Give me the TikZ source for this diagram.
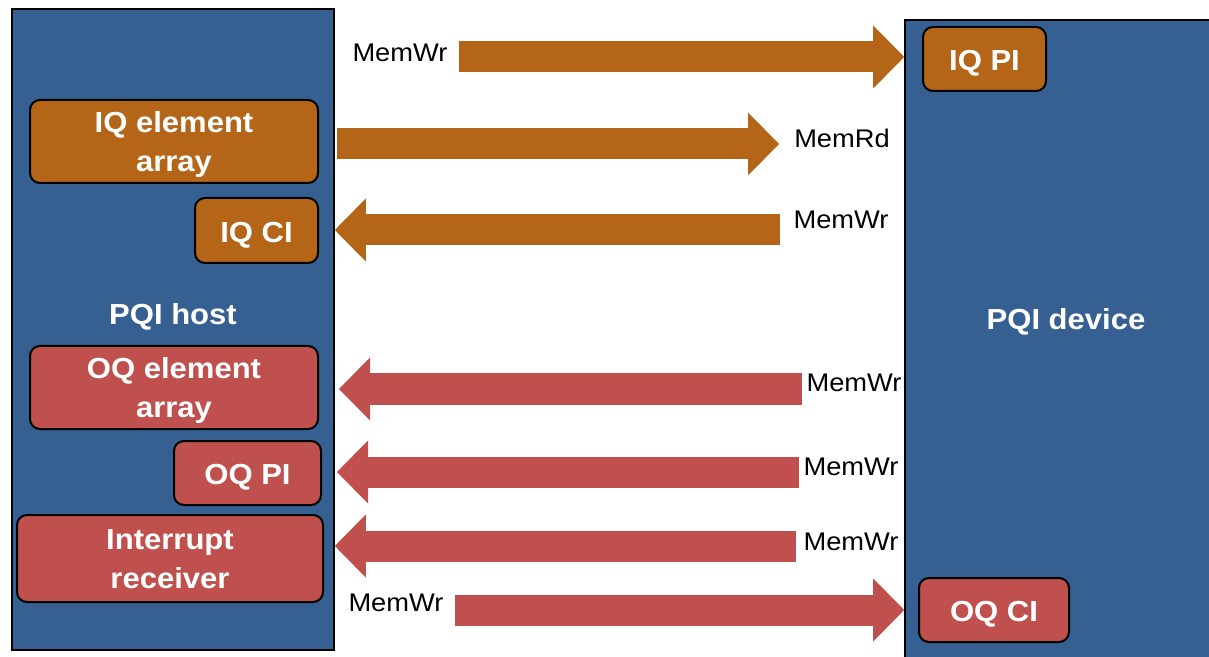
\documentclass[tikz,border=0pt]{standalone}
\usepackage{fontspec}
\setmainfont{Liberation Sans}[FakeStretch=1.07]
\usetikzlibrary{arrows.meta}

\definecolor{pqiblue}{RGB}{55,96,146}
\definecolor{iqorange}{RGB}{181,101,24}
\definecolor{oqred}{RGB}{192,80,77}

\tikzset{
  sidebox/.style={draw=black, line width=0.8pt, fill=pqiblue, inner sep=0pt},
  sidename/.style={text=white, inner sep=0pt, anchor=base, font=\bfseries\fontsize{14.5}{19.5}\selectfont},
  queuebox/.style={draw=black, line width=1pt, rounded corners=5pt, inner sep=0pt,
    text=white, align=center, text height=11.6pt, text depth=0pt,
    font=\bfseries\fontsize{14.5}{19.5}\selectfont},
  twoline/.style={text height=30.2pt},
  iqbox/.style={queuebox, fill=iqorange},
  oqbox/.style={queuebox, fill=oqred},
  tlp/.style={inner sep=0pt, font=\fontsize{12.75}{15}\selectfont},
  flow/.style={line width=15.5pt, -{Triangle[length=15.5pt, width=31.5pt, line width=0pt]}},
  iqflow/.style={flow, draw=iqorange},
  oqflow/.style={flow, draw=oqred},
}

\begin{document}
\begin{tikzpicture}[x=0.5pt, y=-0.5pt]
\clip (0,0) rectangle (1209,657);

% host and device
\node[sidebox, minimum width=161pt, minimum height=320.5pt] (host) at (173,329.5) {};
\node[sidebox, minimum width=155pt, minimum height=322.5pt] (device) at (1060,342.5) {};
\node[sidename] (hostname) at (173,325) {PQI host};
\node[sidename] (devname) at (1066,329) {PQI device};

% inbound queue
\node[iqbox, twoline, minimum width=144pt, minimum height=41.5pt] (iqarray) at (174,141.5) {IQ element\\array};
\node[iqbox, minimum width=61.5pt, minimum height=32.5pt] (iqci) at (256.5,230.5) {IQ CI};
\node[iqbox, minimum width=61.5pt, minimum height=32pt] (iqpi) at (984.5,59) {IQ PI};

% outbound queue
\node[oqbox, twoline, minimum width=144pt, minimum height=41.5pt] (oqarray) at (174,387.5) {OQ element\\array};
\node[oqbox, minimum width=73.5pt, minimum height=32pt] (oqpi) at (247.5,473) {OQ PI};
\node[oqbox, twoline, minimum width=153pt, minimum height=43.5pt] (intr) at (170,558.5) {Interrupt\\receiver};
\node[oqbox, minimum width=75pt, minimum height=32pt] (oqci) at (994,610) {OQ CI};

% transaction names
\node[tlp] (wr1) at (400,53) {MemWr};
\node[tlp] (rd2) at (842,138) {MemRd};
\node[tlp] (wr3) at (841,220) {MemWr};
\node[tlp] (wr4) at (854,383) {MemWr};
\node[tlp] (wr5) at (851,467) {MemWr};
\node[tlp] (wr6) at (851,542) {MemWr};
\node[tlp] (wr7) at (396,603) {MemWr};

% arrow ends
\coordinate (f1) at (459,57);
\coordinate (f2) at (337,144);
\coordinate (t2) at (779,144);
\coordinate (f3) at (780,230);
\coordinate (f4) at (802,389);
\coordinate (t4) at (339,389);
\coordinate (f5) at (799,472);
\coordinate (t5) at (337,472);
\coordinate (f6) at (796,546);
\coordinate (f7) at (455,610);

\draw[iqflow] (f1) -- (f1 -| device.west);
\draw[iqflow] (f2) -- (t2);
\draw[iqflow] (f3) -- (f3 -| host.east);

\draw[oqflow] (f4) -- (t4);
\draw[oqflow] (f5) -- (t5);
\draw[oqflow] (f6) -- (f6 -| host.east);
\draw[oqflow] (f7) -- (f7 -| device.west);

\end{tikzpicture}
\end{document}
